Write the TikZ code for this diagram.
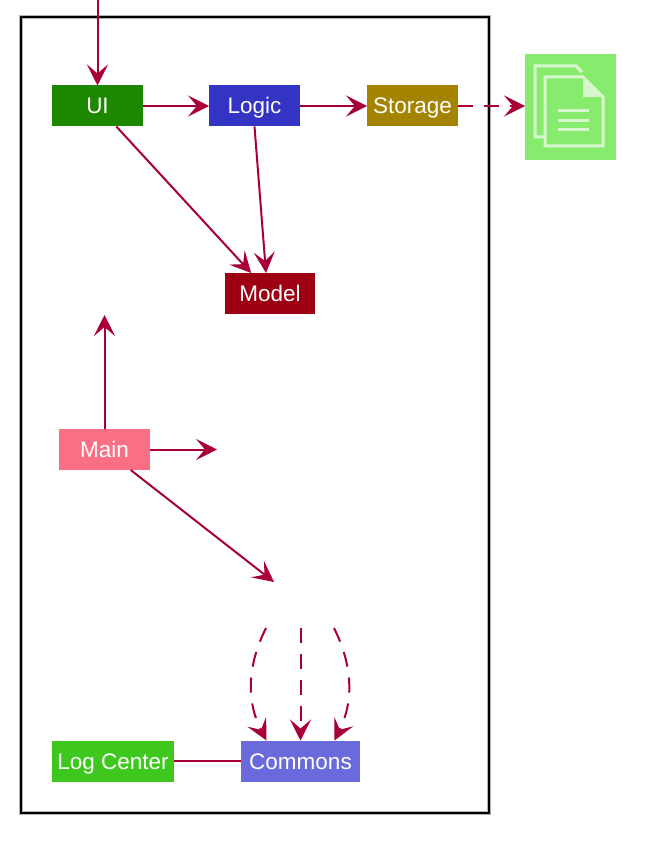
\documentclass[tikz,border=0pt]{standalone}
\usepackage{fontspec}
\setmainfont{Liberation Sans}
\usetikzlibrary{arrows.meta}
\definecolor{arrowred}{HTML}{A80036}
\definecolor{uigreen}{HTML}{1E8700}
\definecolor{logicblue}{HTML}{3333C4}
\definecolor{storagegold}{HTML}{A38300}
\definecolor{modelred}{HTML}{9D0012}
\definecolor{mainpink}{HTML}{FB6F85}
\definecolor{loggreen}{HTML}{3EC81E}
\definecolor{commonsblue}{HTML}{6A6ADC}
\definecolor{filegreen}{HTML}{87EC6E}
\definecolor{filelight}{HTML}{D6F8CC}
\tikzset{
  comp/.style={fill=#1, text=white, inner sep=0pt, outer sep=0pt, minimum height=41pt, text height=18pt, text depth=2pt, font=\fontsize{22.5}{23}\selectfont},
  link/.style={draw=arrowred, line width=2pt, -{Stealth[length=21pt,width=21pt,inset=9pt]}},
  dashlink/.style={link, dash pattern=on 15pt off 11pt},
  sheet/.style={draw=filelight, line width=3pt}
}
\begin{document}
\begin{tikzpicture}[x=1pt,y=-1pt]
  \useasboundingbox (0,0) rectangle (645,845);
  % frame
  \draw [black!30, line width=4pt] (21,17) rectangle (489,813);
  \draw [black, line width=2pt] (21,17) rectangle (489,813);
  % components
  \node [comp=uigreen, minimum width=91pt] (ui) at (97.5,106) {UI};
  \node [comp=logicblue, minimum width=91pt] (logic) at (254.5,106) {Logic};
  \node [comp=storagegold, minimum width=91pt] (storage) at (412.5,106) {Storage};
  \node [comp=modelred, minimum width=90pt] (model) at (270,293.5) {Model};
  \node [comp=mainpink, minimum width=91pt] (main) at (104.5,449.5) {Main};
  \node [comp=loggreen, minimum width=122pt] (logcenter) at (113,761) {Log Center};
  \node [comp=commonsblue, minimum width=119pt] (commons) at (300.5,761) {Commons};
  \node [fill=filegreen, inner sep=0pt, outer sep=0pt, minimum width=91pt, minimum height=106pt] (file) at (570.5,107) {};
  % file icon
  \draw [sheet] (544,137) -- (535,137) -- (535,66) -- (576,66) -- (582,72);
  \draw [sheet] (545,146) -- (545,77) -- (583,77) -- (603,97) -- (603,146) -- cycle;
  \fill [filelight] (583,77) -- (603,97) -- (583,97) -- cycle;
  \draw [sheet] (558,111) -- (589,111);
  \draw [sheet] (558,120.5) -- (589,120.5);
  \draw [sheet] (558,130) -- (589,130);
  % free ends
  \coordinate (usertop) at (97.5,0);
  \coordinate (mainup) at (104.5,315);
  \coordinate (mainright) at (217,449.5);
  \coordinate (maindown) at (274,582);
  \coordinate (commonsleft) at (266,628);
  \coordinate (commonsmid) at (300.5,628);
  \coordinate (commonsright) at (334,628);
  % links
  \draw [link] (usertop) -- (ui.north);
  \draw [link] (ui.east) -- (logic.west);
  \draw [link] (logic.east) -- (storage.west);
  \draw [dashlink] (storage.east) -- (storage.east -| file.west);
  \draw [link] (ui) -- (model);
  \draw [link] (logic.south) -- ([xshift=-4pt]model.north);
  \draw [link] (main.north) -- (mainup);
  \draw [link] (main.east) -- (mainright);
  \draw [link] (main) -- (maindown);
  \draw [dashlink] (commonsleft) .. controls (245,670) and (248,705) .. ([xshift=-34pt]commons.north);
  \draw [dashlink] (commonsmid) -- (commons.north);
  \draw [dashlink] (commonsright) .. controls (355,670) and (352,705) .. ([xshift=34pt]commons.north);
  \draw [draw=arrowred, line width=2pt] (logcenter) -- (commons);
\end{tikzpicture}
\end{document}
